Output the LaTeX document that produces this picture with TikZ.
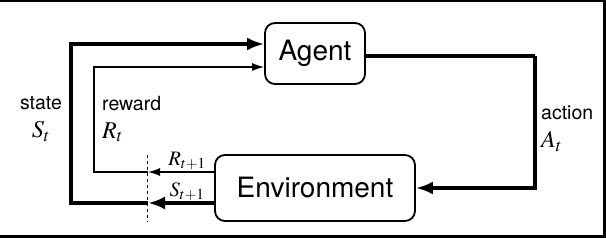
\documentclass[tikz,border=0pt]{standalone}
\usepackage{mathptmx}
\usepackage{fontspec}
\setmainfont{TeX Gyre Heros}
\usetikzlibrary{arrows.meta, positioning}

\newcommand{\bigmath}[1]{{\fontsize{24}{28}\selectfont$#1$}}

\begin{document}
\begin{tikzpicture}[
        x=1pt, y=1pt,
        box/.style={draw, line width=1.8pt, rounded corners=10pt, inner sep=0pt, font=\fontsize{28}{30}\selectfont},
        lbl/.style={inner sep=0pt, align=left, font=\fontsize{19.5}{28}\selectfont},
        sublbl/.style={inner sep=0pt, font=\fontsize{20.5}{22}\selectfont},
        thickarr/.style={-{Latex[length=17pt, width=13pt]}, line width=3.6pt},
        thinarr/.style={-{Latex[length=12pt, width=8pt]}, line width=1.3pt},
        thickline/.style={line width=3.6pt},
        thinline/.style={line width=1.3pt}
        ]
        \useasboundingbox (0,0) rectangle (606,238);
        % frame
        \draw[line width=2.5pt] (0,237) -- (604.5,237) -- (604.5,1.5) -- (0,1.5);

        \node[box, minimum width=100pt, minimum height=61pt] (agent) at (315,184.5) {Agent};
        \node[box, minimum width=200pt, minimum height=66pt] (env) at (315,50) {Environment};

        % cut line and corners
        \coordinate (cutR) at (148,66);
        \coordinate (cutS) at (148,35);
        \coordinate (cornerR) at (94,66);
        \coordinate (cornerS) at (71,35);
        \coordinate (cornerA) at (535,182);
        \draw[dashed, line width=0.8pt] (147,83) -- (147,16);

        % action
        \draw[thickline] (agent.east |- cornerA) -- (cornerA);
        \draw[thickarr] (cornerA) |- (env.east);

        % reward and state from the environment
        \draw[thinarr] (env.west |- cutR) -- (cutR);
        \draw[thickarr] (env.west |- cutS) -- (cutS);
        \draw[thinarr] (cutR) -- (cornerR) |- ([yshift=-13.5pt]agent.west);
        \draw[thickarr] (cutS) -- (cornerS) |- ([yshift=9.5pt]agent.west);

        % labels
        \node[lbl, align=center] (state) at (41,119) {state\\\bigmath{S_t}};
        \node[lbl, anchor=west] (reward) at (102,119) {reward\\\bigmath{R_t}};
        \node[lbl, anchor=west] (action) at (541,109) {action\\\bigmath{A_t}};
        \node[sublbl] (rnext) at (187,77) {$R_{t+1}$};
        \node[sublbl] (snext) at (187,46) {$S_{t+1}$};
    \end{tikzpicture}
\end{document}
